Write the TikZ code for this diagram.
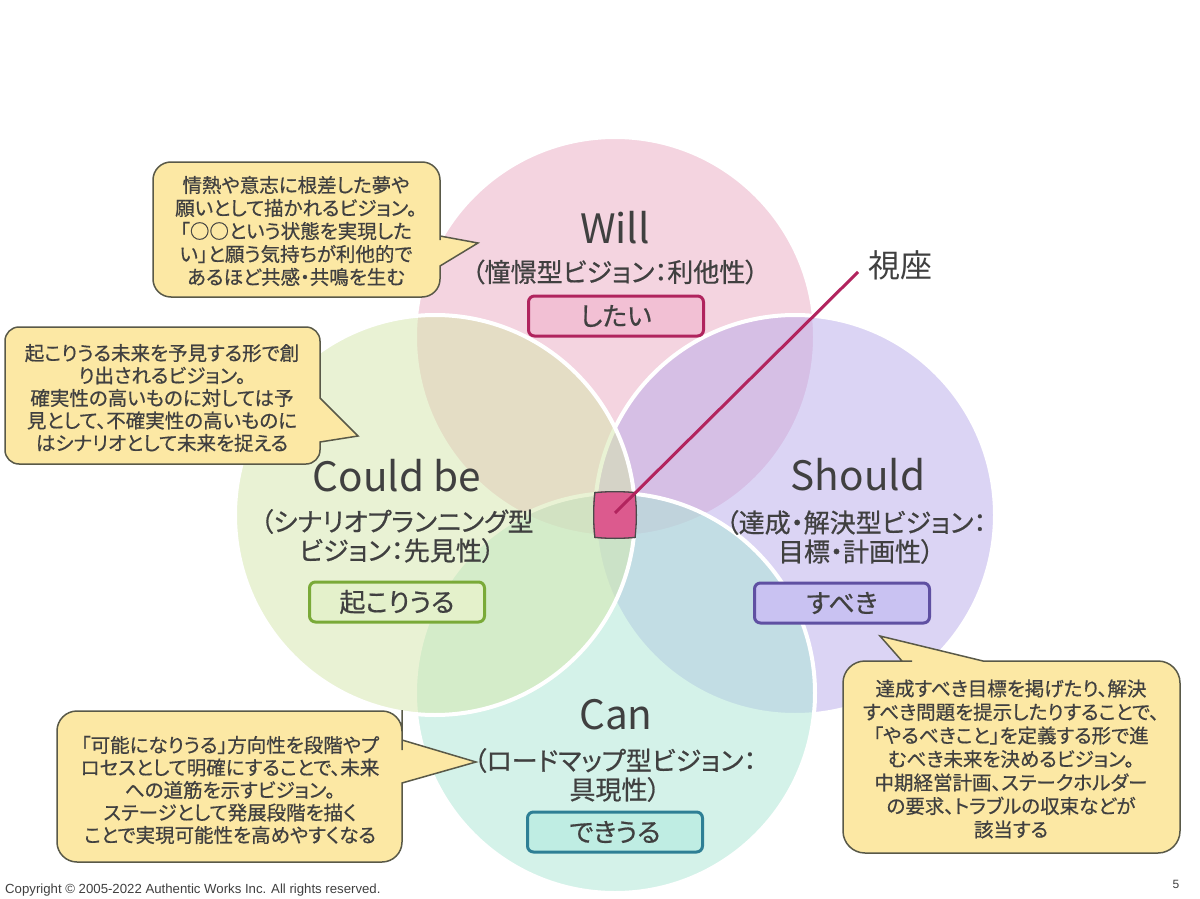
\documentclass[tikz,border=0pt]{standalone}
\usepackage{fontspec}
\setmainfont{Noto Sans CJK JP}
\newfontfamily\jpp{Noto Sans CJK JP}[RawFeature=+palt]
\newfontfamily\jppb{Noto Sans CJK JP}[RawFeature=+palt, FakeBold=0.6]
\newfontfamily\latinfont{Liberation Sans}
\definecolor{willfill}{HTML}{EBABC3}
\definecolor{couldfill}{HTML}{D5E7AB}
\definecolor{shouldfill}{HTML}{B9ABEB}
\definecolor{canfill}{HTML}{ABE7D5}
\definecolor{txt}{HTML}{404040}
\definecolor{callfill}{HTML}{FCE8A4}
\definecolor{callline}{HTML}{595948}
\definecolor{hubpink}{HTML}{DC5A8E}
\definecolor{hubline}{HTML}{4A4A4A}
\definecolor{viewline}{HTML}{B2245E}
\definecolor{willbox}{HTML}{F2C0D4}
\definecolor{willline}{HTML}{B0245E}
\definecolor{couldbox}{HTML}{E4F1CB}
\definecolor{couldline}{HTML}{7AAA38}
\definecolor{shouldbox}{HTML}{C9C2F2}
\definecolor{shouldline}{HTML}{5F50A2}
\definecolor{canbox}{HTML}{BFEDE3}
\definecolor{canline}{HTML}{2E7F95}
\tikzset{
  venn/.style={circle, minimum size=400pt, inner sep=0pt, draw=white, line width=4pt, fill opacity=0.5},
  titletext/.style={text=txt, font=\fontsize{40.5}{44}\selectfont, inner sep=0pt},
  subtext/.style={text=txt, font=\jppb\fontsize{26}{29}\selectfont, align=center, inner sep=0pt},
  tagbox/.style={rounded corners=6pt, line width=3pt, minimum width=175pt, minimum height=40pt, text=txt, font=\jppb\fontsize{26}{28}\selectfont, inner sep=0pt},
  callout/.style={fill=callfill, draw=callline, line width=1.5pt},
  calltext/.style={text=txt, font=\jppb\fontsize{19.5}{23}\selectfont, align=center, inner sep=0pt},
}
\begin{document}
\begin{tikzpicture}[x=1pt,y=-1pt]
\useasboundingbox[fill=white] (0,0) rectangle (1200,899);
% circles
\node[venn, fill=willfill] (will) at (615,337) {};
\node[venn, fill=shouldfill] (should) at (795,515) {};
\node[venn, fill=canfill] (can) at (615,693) {};
\node[venn, fill=couldfill] (could) at (435,515) {};
% hub
\begin{scope}
  \clip (will.center) circle[radius=202pt];
  \clip (should.center) circle[radius=202pt];
  \clip (can.center) circle[radius=202pt];
  \clip (could.center) circle[radius=202pt];
  \fill[hubpink] (could.center) circle[radius=202pt];
  \draw[hubline, line width=2.6pt] (will.center) circle[radius=202pt];
  \draw[hubline, line width=2.6pt] (should.center) circle[radius=202pt];
  \draw[hubline, line width=2.6pt] (can.center) circle[radius=202pt];
  \draw[hubline, line width=2.6pt] (could.center) circle[radius=202pt];
\end{scope}
\coordinate (hub) at (615,513);
% view label
\node[text=txt, font=\fontsize{32}{36}\selectfont, inner sep=0pt] (shiza) at (900,265) {視座};
\coordinate (viewstart) at (858,272);
\draw[viewline, line width=3pt] (viewstart) -- (hub);
% Will
\node[titletext] (willt) at (615,228) {Will};
\node[subtext] (wills) at (615,272) {（憧憬型ビジョン：利他性）};
\node[tagbox, fill=willbox, draw=willline] (willtag) at (616,316) {したい};
% Could be
\node[titletext] (couldt) at (397,476) {Could be};
\node[subtext] (coulds) at (397,536) {（シナリオプランニング型\\ビジョン：先見性）};
\node[tagbox, fill=couldbox, draw=couldline] (couldtag) at (397,602) {起こりうる};
% Should
\node[titletext] (shouldt) at (858,475) {Should};
\node[subtext] (shoulds) at (856,537) {（達成・解決型ビジョン：\\目標・計画性）};
\node[tagbox, fill=shouldbox, draw=shouldline] (shouldtag) at (842,603) {すべき};
% Can
\node[titletext] (cant) at (616,715) {Can};
\node[subtext] (cans) at (615,775) {（ロードマップ型ビジョン：\\具現性）};
\node[tagbox, fill=canbox, draw=canline] (cantag) at (615,832) {できうる};
% callouts
\draw[callout] (296,162) [rounded corners=18pt] -- (440,162) -- (440,222) [sharp corners] -- (440,236) -- (478,243) -- (440,266) -- (440,278) [rounded corners=18pt] -- (440,297) -- (153,297) -- (153,162) -- cycle;
\node[calltext] (c1t) at (296,231) {情熱や意志に根差した夢や\\願いとして描かれるビジョン。\\「○○という状態を実現した\\い」と願う気持ちが利他的で\\あるほど共感・共鳴を生む};
\draw[callout] (162,327) [rounded corners=14pt] -- (320,327) -- (320,382) [sharp corners] -- (320,398) -- (358,436) -- (320,442) -- (320,446) [rounded corners=14pt] -- (320,464) -- (5,464) -- (5,327) -- cycle;
\node[calltext, font=\jppb\fontsize{19.5}{22.5}\selectfont] (c2t) at (162,398) {起こりうる未来を予見する形で創\\り出されるビジョン。\\確実性の高いものに対しては予\\見として、不確実性の高いものに\\はシナリオとして未来を捉える};
\draw[callout] (230,711) [rounded corners=20pt] -- (402,711) -- (402,730) [sharp corners] -- (402,740) -- (476,762) -- (402,783) -- (402,795) [rounded corners=20pt] -- (402,862) -- (57,862) -- (57,711) -- cycle;
\node[calltext, font=\jppb\fontsize{19.5}{22.5}\selectfont] (c3t) at (230,790) {「可能になりうる」方向性を段階やプ\\ロセスとして明確にすることで、未来\\への道筋を示すビジョン。\\ステージとして発展段階を描く\\ことで実現可能性を高めやすくなる};
\draw[callout] (1011,853) [rounded corners=22pt] -- (843,853) -- (843,661) -- (890,661) [sharp corners] -- (902,661) -- (880,636) -- (983,661) -- (995,661) [rounded corners=22pt] -- (1180,661) -- (1180,853) -- cycle;
\node[calltext, font=\jppb\fontsize{19.5}{23.5}\selectfont] (c4t) at (1011,759) {達成すべき目標を掲げたり、解決\\すべき問題を提示したりすることで、\\「やるべきこと」を定義する形で進\\むべき未来を決めるビジョン。\\中期経営計画、ステークホルダー\\の要求、トラブルの収束などが\\該当する};
% footer
\node[font=\latinfont\fontsize{13.2}{15}\selectfont, text=txt, anchor=base west, inner sep=0pt] (copy) at (5,893) {Copyright © 2005-2022 Authentic Works Inc. All rights reserved.};
\node[font=\latinfont\fontsize{12}{14}\selectfont, text=txt, anchor=base, inner sep=0pt] (pnum) at (1176,888) {5};
\end{tikzpicture}
\end{document}
